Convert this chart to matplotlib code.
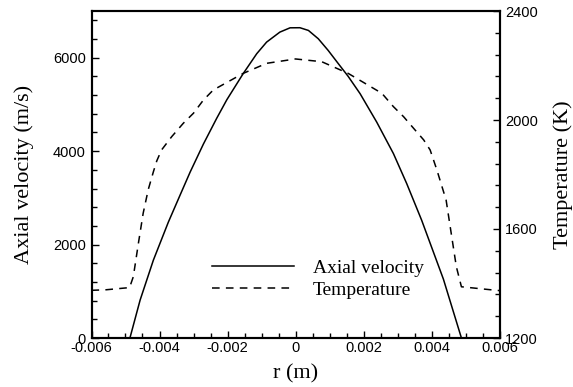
import matplotlib
matplotlib.use('Agg')
import matplotlib.pyplot as plt
from matplotlib.ticker import MultipleLocator, FuncFormatter

plt.rcParams['lines.scale_dashes'] = False

# ---------------- data
r_vel = [-0.00487, -0.00457, -0.00418, -0.00374, -0.0034, -0.0031, -0.00271, -0.00232,
         -0.00202, -0.00154, -0.00114, -0.00085, -0.00046, -0.00016, 0.00013, 0.00038,
         0.00067, 0.00096, 0.00126, 0.00155, 0.0019, 0.00239, 0.00288, 0.00327, 0.00371,
         0.00435, 0.00488]
velocity = [0, 812, 1667, 2480, 3050, 3550, 4150, 4700,
            5100, 5658, 6086, 6334, 6548, 6640, 6642, 6584,
            6406, 6157, 5872, 5600, 5230, 4620, 3948, 3307, 2522,
            1260, 0]

r_temp = [-0.006, -0.00557, -0.00488, -0.00477, -0.00462, -0.00448, -0.00433, -0.00418,
          -0.00408, -0.00394, -0.00364, -0.0033, -0.003, -0.00271, -0.00242, -0.00154,
          -0.00085, 0.0, 0.00077, 0.00155, 0.00254, 0.00288, 0.00318, 0.00347, 0.00377,
          0.00396, 0.00416, 0.00443, 0.00458, 0.00473, 0.00488, 0.00582, 0.006]
temperature = [1375, 1377, 1385, 1425, 1548, 1658, 1745, 1810,
               1850, 1890, 1939, 1988, 2025, 2073, 2110, 2171,
               2208, 2224, 2214, 2171, 2098, 2049, 2012, 1970, 1927,
               1890, 1816, 1706, 1584, 1462, 1388, 1376, 1374]

serif = 'Liberation Serif'
sans = 'Liberation Sans'

# ---------------- figure
fig = plt.figure(figsize=(5.73, 3.87), dpi=100)
W, H = 573.0, 387.0
ax = fig.add_axes([91.5 / W, (H - 338) / H, 408 / W, 327 / H])
ax2 = ax.twinx()

l1, = ax.plot(r_vel, velocity, color='black', lw=1.1, label='Axial velocity')
l2, = ax2.plot(r_temp, temperature, color='black', lw=1.1, dashes=(5.5, 4.5),
               label='Temperature')

ax.set_xlim(-0.006, 0.006)
ax.set_ylim(0, 7000)
ax2.set_ylim(1200, 2400)

ax.xaxis.set_major_locator(MultipleLocator(0.002))
ax.xaxis.set_minor_locator(MultipleLocator(0.0005))
ax.xaxis.set_major_formatter(FuncFormatter(lambda v, p: '%g' % round(v, 6)))
ax.yaxis.set_major_locator(MultipleLocator(2000))
ax.yaxis.set_minor_locator(MultipleLocator(400))
ax2.yaxis.set_major_locator(MultipleLocator(400))
ax2.yaxis.set_minor_locator(MultipleLocator(80))

for a in (ax, ax2):
    for s in a.spines.values():
        s.set_linewidth(1.5)
ax.tick_params(which='both', direction='in', top=False, right=False, width=1.0)
ax.tick_params(which='major', length=5)
ax.tick_params(which='minor', length=3.5)
ax.tick_params(axis='x', pad=2)
ax.tick_params(axis='y', pad=4)
ax2.tick_params(which='both', direction='in', width=1.0)
ax2.tick_params(which='major', length=5, pad=4)
ax2.tick_params(which='minor', length=3.5)

for lab in ax.get_xticklabels() + ax.get_yticklabels() + ax2.get_yticklabels():
    lab.set_fontfamily(sans)
    lab.set_fontsize(10.5)

ax.set_xlabel('r (m)', fontfamily=serif, fontsize=16, labelpad=7)
ax.set_ylabel('Axial velocity (m/s)', fontfamily=serif, fontsize=16, labelpad=14)
ax2.set_ylabel('Temperature (K)', fontfamily=serif, fontsize=16, labelpad=11)

ax2.legend(handles=[l1, l2], loc='center left', bbox_to_anchor=(212 / W, 1 - 279 / H),
           bbox_transform=fig.transFigure, frameon=False, borderpad=0, borderaxespad=0,
           handlelength=4.2, handletextpad=1.0, labelspacing=0.2,
           prop={'family': serif, 'size': 14})

fig.savefig('out.png', dpi=100)
